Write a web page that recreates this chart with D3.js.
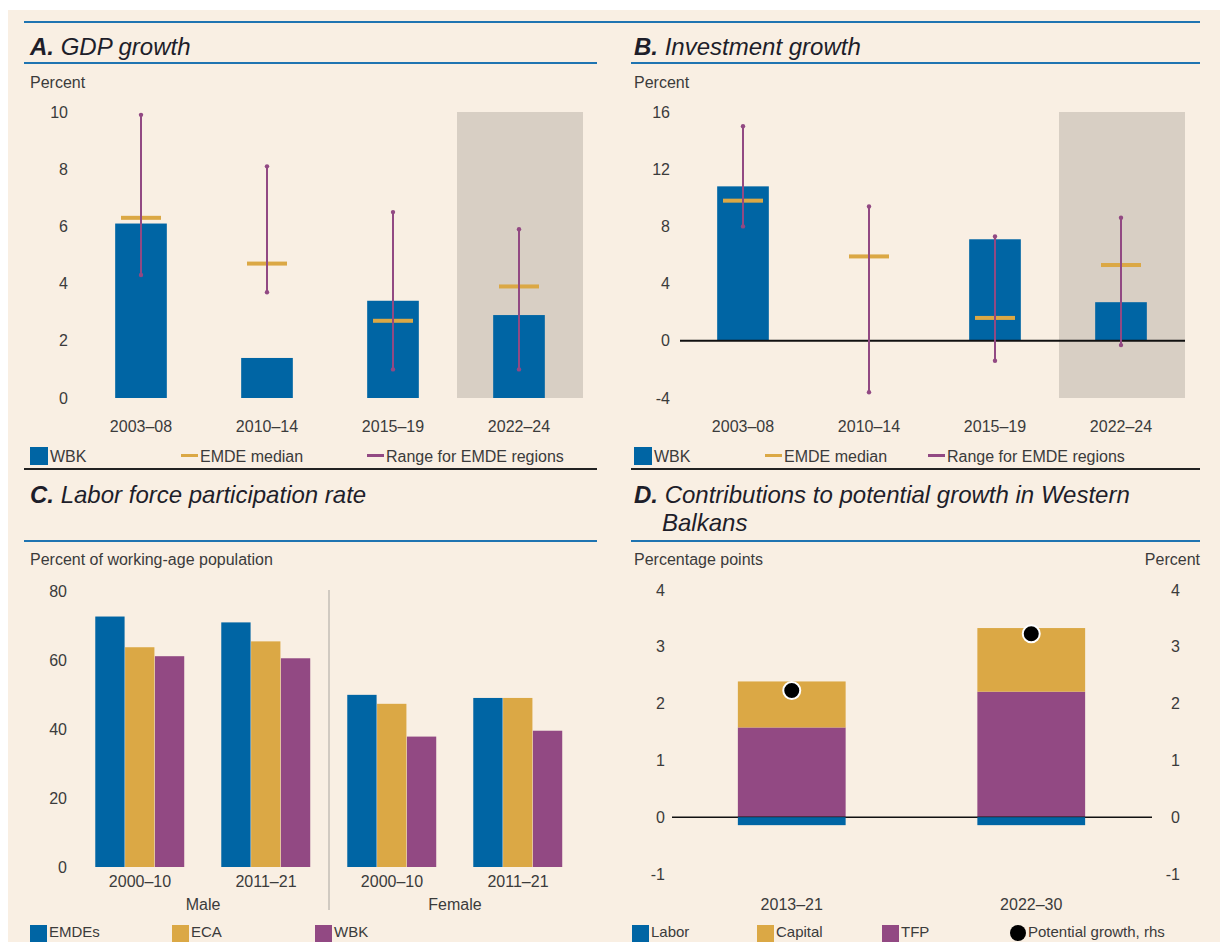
<!DOCTYPE html>
<html>
<head>
<meta charset="utf-8">
<style>
	body { margin:0; background:#fff; }
	svg { position:absolute; top:0px; left:0px; font-family:"Liberation Sans Narrow","Arial Narrow",sans-serif; }
	.tick text { font-size:16px; fill:#3b3b3b; }
	.lbl { font-size:16px; fill:#3b3b3b; }
	.leg { font-size:15px; fill:#3b3b3b; }
	.ttl { font-size:24px; font-style:italic; fill:#1e1e2a; }
</style>
<script src="https://cdnjs.cloudflare.com/ajax/libs/d3/7.8.5/d3.min.js"></script>
</head>
<body>
<svg width="1220" height="942"></svg>
<script>
// ---- data ----
var periods = ["2003–08", "2010–14", "2015–19", "2022–24"];

var gdpWBK = [6.1, 1.4, 3.4, 2.9];
var gdpMedian = [6.3, 4.7, 2.7, 3.9];
var gdpLow = [4.3, 3.7, 1.0, 1.0];
var gdpHigh = [9.9, 8.1, 6.5, 5.9];

var invWBK = [10.8, 0, 7.1, 2.7];
var invMedian = [9.8, 5.9, 1.6, 5.3];
var invLow = [8.0, -3.6, -1.4, -0.3];
var invHigh = [15.0, 9.4, 7.3, 8.6];

var lfpGroups = ["Male 2000–10", "Male 2011–21", "Female 2000–10", "Female 2011–21"];
var lfpLabels = ["2000–10", "2011–21", "2000–10", "2011–21"];
var lfpSeries = ["EMDEs", "ECA", "WBK"];
var lfpEMDE = [72.6, 70.9, 49.9, 49.0];
var lfpECA = [63.7, 65.4, 47.3, 49.0];
var lfpWBK = [61.1, 60.5, 37.8, 39.5];

var potPeriods = ["2013–21", "2022–30"];
var potLabor = [-0.14, -0.14];
var potTFP = [1.58, 2.21];
var potCapital = [0.81, 1.12];
var potGrowth = [2.23, 3.23];

var blue = "#0065a4", gold = "#dba845", purple = "#924983", shade = "#d8cfc4", bg = "#f9efe3";

var svg = d3.select("svg");
svg.append("rect").attr("x", 8).attr("y", 10).attr("width", 1212).attr("height", 932).attr("fill", bg);

// frame rules
svg.append("line").attr("x1", 24).attr("x2", 1200).attr("y1", 22).attr("y2", 22).attr("stroke", "#1f74b1").attr("stroke-width", 2);
[[24, 597, 63], [631, 1200, 63], [24, 597, 541], [631, 1200, 541]].forEach(function(r) {
	svg.append("line").attr("x1", r[0]).attr("x2", r[1]).attr("y1", r[2]).attr("y2", r[2]).attr("stroke", "#1f74b1").attr("stroke-width", 2);
});
[[24, 597], [631, 1200]].forEach(function(r) {
	svg.append("line").attr("x1", r[0]).attr("x2", r[1]).attr("y1", 469).attr("y2", 469).attr("stroke", "#222").attr("stroke-width", 2);
});

function title(x, y, letter, text) {
	var t = svg.append("text").attr("class", "ttl").attr("x", x).attr("y", y);
	t.append("tspan").attr("font-weight", "bold").text(letter);
	t.append("tspan").text(" " + text);
	return t;
}
function label(x, y, text, anchor, cls) {
	return svg.append("text").attr("class", cls || "lbl").attr("x", x).attr("y", y)
		.attr("text-anchor", anchor || "start").text(text);
}
function yAxis(scale, x, ticks, side) {
	var ax = (side == "right" ? d3.axisRight(scale) : d3.axisLeft(scale))
		.tickValues(ticks).tickSize(0).tickPadding(0).tickFormat(function(d) { return String(d); });
	var g = svg.append("g").attr("transform", "translate(" + x + ",0)").call(ax);
	g.select(".domain").remove();
	if (side == "right") g.selectAll("text").attr("text-anchor", "end");
	return g;
}

// ---- panel A / B: bars with median and range ----
function rangePanel(opt) {
	var x = d3.scaleBand().domain(periods).range(opt.xr).paddingInner(0.59).paddingOuter(0.295);
	var y = d3.scaleLinear().domain(opt.dom).range([398, 112]);
	var bw = x.bandwidth(), step = x.step();

	svg.append("rect").attr("x", x(periods[3]) + bw / 2 - step / 2 + 1).attr("y", y(opt.dom[1]))
		.attr("width", step).attr("height", y(opt.dom[0]) - y(opt.dom[1])).attr("fill", shade);

	yAxis(y, opt.xr[0] - 10, opt.ticks);

	svg.append("g").selectAll("rect").data(opt.wbk).join("rect")
		.attr("x", function(d, i) { return x(periods[i]); })
		.attr("y", function(d) { return y(Math.max(0, d)); })
		.attr("width", bw)
		.attr("height", function(d) { return Math.abs(y(d) - y(0)); })
		.attr("fill", blue);

	if (opt.zeroLine) {
		svg.append("line").attr("x1", opt.xr[0]).attr("x2", opt.xr[1] + 1).attr("y1", y(0)).attr("y2", y(0))
			.attr("stroke", "#111").attr("stroke-width", 2);
	}

	var med = svg.append("g");
	med.selectAll("rect").data(opt.med).join("rect")
		.attr("x", function(d, i) { return x(periods[i]) + bw / 2 - 20; })
		.attr("y", function(d) { return y(d) - 2; })
		.attr("width", 40).attr("height", 4).attr("fill", gold);

	var rg = svg.append("g");
	rg.selectAll("line").data(opt.low).join("line")
		.attr("x1", function(d, i) { return x(periods[i]) + bw / 2; })
		.attr("x2", function(d, i) { return x(periods[i]) + bw / 2; })
		.attr("y1", function(d) { return y(d); })
		.attr("y2", function(d, i) { return y(opt.high[i]); })
		.attr("stroke", purple).attr("stroke-width", 2);
	rg.selectAll("circle").data(opt.low.concat(opt.high)).join("circle")
		.attr("cx", function(d, i) { return x(periods[i % 4]) + bw / 2; })
		.attr("cy", function(d) { return y(d); })
		.attr("r", 2.2).attr("fill", purple);

	svg.append("g").selectAll("text").data(periods).join("text").attr("class", "lbl")
		.attr("x", function(d) { return x(d) + bw / 2; }).attr("y", 432)
		.attr("text-anchor", "middle").text(function(d) { return d; });

	// legend
	var lx = opt.legend;
	svg.append("rect").attr("x", lx[0]).attr("y", 447).attr("width", 18).attr("height", 18).attr("fill", blue);
	label(lx[0] + 20, 462, "WBK");
	svg.append("rect").attr("x", lx[1]).attr("y", 454).attr("width", 17).attr("height", 3).attr("fill", gold);
	label(lx[1] + 19, 462, "EMDE median");
	svg.append("rect").attr("x", lx[2]).attr("y", 454).attr("width", 17).attr("height", 3).attr("fill", purple);
	label(lx[2] + 19, 462, "Range for EMDE regions");
}

title(30, 55, "A.", "GDP growth");
label(30, 88, "Percent");
rangePanel({ xr: [78, 582], dom: [0, 10], ticks: [0, 2, 4, 6, 8, 10], wbk: gdpWBK, med: gdpMedian, low: gdpLow, high: gdpHigh, legend: [30, 181, 367] });

title(634, 55, "B.", "Investment growth");
label(634, 88, "Percent");
rangePanel({ xr: [680, 1184], dom: [-4, 16], ticks: [-4, 0, 4, 8, 12, 16], wbk: invWBK, med: invMedian, low: invLow, high: invHigh, zeroLine: true, legend: [634, 765, 928] });

// ---- panel C: grouped bars ----
title(30, 503, "C.", "Labor force participation rate");
label(30, 565, "Percent of working-age population");
(function() {
	var x0 = d3.scaleBand().domain(lfpGroups).range([77, 581]).paddingInner(0.29).paddingOuter(0.145);
	var x1 = d3.scaleBand().domain(lfpSeries).range([0, x0.bandwidth()]);
	var y = d3.scaleLinear().domain([0, 80]).range([867, 591]);
	var cols = [blue, gold, purple];
	var vals = [lfpEMDE, lfpECA, lfpWBK];

	yAxis(y, 67, [0, 20, 40, 60, 80]);

	svg.append("line").attr("x1", 329).attr("x2", 329).attr("y1", 590).attr("y2", 910)
		.attr("stroke", "#a9a59f").attr("stroke-width", 1);

	var g = svg.append("g").selectAll("g").data(lfpGroups).join("g")
		.attr("transform", function(d) { return "translate(" + x0(d) + ",0)"; });
	g.selectAll("rect").data(function(d, i) { return lfpSeries.map(function(s, j) { return { s: s, v: vals[j][i], c: cols[j] }; }); })
		.join("rect")
		.attr("x", function(d) { return x1(d.s); })
		.attr("y", function(d) { return y(d.v); })
		.attr("width", x1.bandwidth() - 0.5)
		.attr("height", function(d) { return y(0) - y(d.v); })
		.attr("fill", function(d) { return d.c; });

	svg.append("g").selectAll("text").data(lfpGroups).join("text").attr("class", "lbl")
		.attr("x", function(d) { return x0(d) + x0.bandwidth() / 2; }).attr("y", 887)
		.attr("text-anchor", "middle").text(function(d, i) { return lfpLabels[i]; });
	label((x0(lfpGroups[0]) + x0(lfpGroups[1]) + x0.bandwidth()) / 2, 910, "Male", "middle");
	label((x0(lfpGroups[2]) + x0(lfpGroups[3]) + x0.bandwidth()) / 2, 910, "Female", "middle");

	var lx = [30, 172, 315];
	lfpSeries.forEach(function(s, j) {
		svg.append("rect").attr("x", lx[j]).attr("y", 925).attr("width", 17).attr("height", 17).attr("fill", cols[j]);
		label(lx[j] + 19, 937, s, "start", "leg");
	});
})();

// ---- panel D: stacked contributions ----
title(634, 503, "D.", "Contributions to potential growth in Western");
svg.append("text").attr("class", "ttl").attr("x", 662).attr("y", 531).text("Balkans");
label(634, 565, "Percentage points");
label(1200, 565, "Percent", "end");
(function() {
	var x = d3.scaleBand().domain(potPeriods).range([672, 1151]).paddingInner(0.55).paddingOuter(0.275);
	var y = d3.scaleLinear().domain([-1, 4]).range([874, 590]);
	var bw = x.bandwidth();

	yAxis(y, 665, [-1, 0, 1, 2, 3, 4]);
	yAxis(y, 1180, [-1, 0, 1, 2, 3, 4], "right");

	var rows = potPeriods.map(function(p, i) {
		return [
			{ y0: 0, y1: potTFP[i], c: purple },
			{ y0: potTFP[i], y1: potTFP[i] + potCapital[i], c: gold }
		].map(function(r) { r.p = p; return r; });
	});
	svg.append("g").selectAll("rect").data(rows.flat()).join("rect")
		.attr("x", function(d) { return x(d.p); })
		.attr("y", function(d) { return y(Math.max(d.y0, d.y1)); })
		.attr("width", bw)
		.attr("height", function(d) { return Math.abs(y(d.y0) - y(d.y1)); })
		.attr("fill", function(d) { return d.c; });

	svg.append("line").attr("x1", 672).attr("x2", 1152).attr("y1", y(0)).attr("y2", y(0))
		.attr("stroke", "#111").attr("stroke-width", 1.5);
	// labor sits just under the zero line
	svg.append("g").selectAll("rect").data(potLabor).join("rect")
		.attr("x", function(d, i) { return x(potPeriods[i]); })
		.attr("y", y(0)).attr("width", bw)
		.attr("height", function(d) { return y(d) - y(0); })
		.attr("fill", blue);

	svg.append("g").selectAll("circle").data(potGrowth).join("circle")
		.attr("cx", function(d, i) { return x(potPeriods[i]) + bw / 2; })
		.attr("cy", function(d) { return y(d); })
		.attr("r", 8.5).attr("fill", "#000").attr("stroke", "#fff").attr("stroke-width", 2);

	svg.append("g").selectAll("text").data(potPeriods).join("text").attr("class", "lbl")
		.attr("x", function(d) { return x(d) + bw / 2; }).attr("y", 910)
		.attr("text-anchor", "middle").text(function(d) { return d; });

	var items = [["Labor", blue, 632], ["Capital", gold, 757], ["TFP", purple, 882]];
	items.forEach(function(it) {
		svg.append("rect").attr("x", it[2]).attr("y", 925).attr("width", 17).attr("height", 17).attr("fill", it[1]);
		label(it[2] + 19, 937, it[0], "start", "leg");
	});
	svg.append("circle").attr("cx", 1018).attr("cy", 933).attr("r", 8).attr("fill", "#000");
	label(1028, 937, "Potential growth, rhs", "start", "leg");
})();
</script>
</body>
</html>
